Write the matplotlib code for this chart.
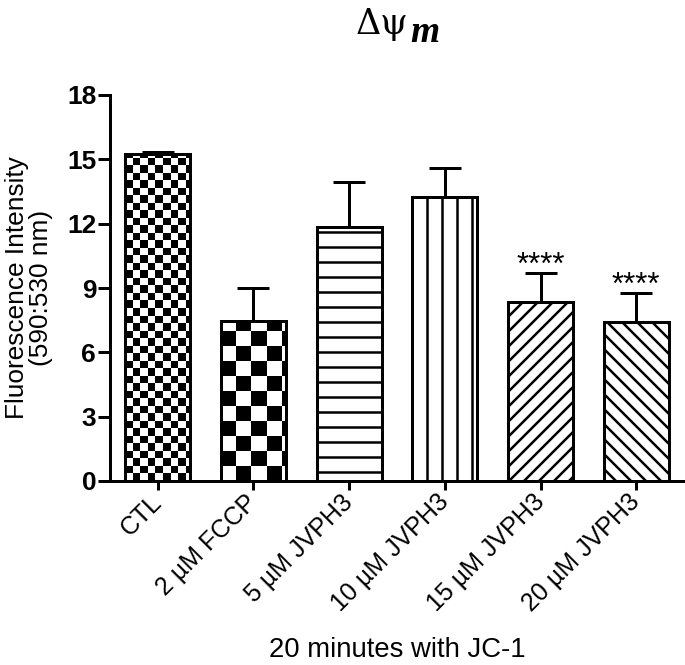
import numpy as np
import matplotlib
matplotlib.use('Agg')
import matplotlib.pyplot as plt

groups = ['CTL', '2 µM FCCP', '5 µM JVPH3', '10 µM JVPH3', '15 µM JVPH3', '20 µM JVPH3']
means = [15.25, 7.45, 11.85, 13.25, 8.35, 7.42]
sems = [0.1, 1.55, 2.1, 1.35, 1.35, 1.35]
stars = ['', '', '', '', '****', '****']
yticks = [0, 3, 6, 9, 12, 15, 18]

# fill style per bar: checker cell size in px, or a hatch
checker_px = [7.5, 15, None, None, None, None]
hatches = [None, None, '-', '|', '//', '\\\\']

plt.rcParams['font.family'] = 'Liberation Sans'
plt.rcParams['hatch.linewidth'] = 2.0

dpi = 90
fig = plt.figure(figsize=(685 / dpi, 665 / dpi), dpi=dpi)
ax = fig.add_axes([110 / 685, 1 - 481 / 665, 574 / 685, 386 / 665])
x = np.arange(len(groups))
ax.set_xlim(-0.5, 5.5)
ax.set_ylim(0, 18)


def checker(ax, bar, cell):
    x0, y0 = bar.get_x(), bar.get_y()
    w, h = bar.get_width(), bar.get_height()
    (px0, py0), (px1, py1) = ax.transData.transform([(x0, y0), (x0 + w, y0 + h)])
    nx = int(np.ceil((px1 - px0) / cell)) + 1
    ny = int(np.ceil((py1 - py0) / cell)) + 1
    img = np.indices((ny, nx)).sum(axis=0) % 2
    ex1, ey1 = ax.transData.inverted().transform((px0 + nx * cell, py0 + ny * cell))
    im = ax.imshow(img, cmap='gray_r', origin='lower', extent=(x0, ex1, y0, ey1),
                   aspect='auto', interpolation='nearest', zorder=2.1)
    im.set_clip_path(bar)


ax.errorbar(x, means, yerr=[np.zeros(len(sems)), sems], fmt='none', ecolor='black',
            elinewidth=2.4, capsize=13, capthick=2.4, zorder=1.5)
bars = ax.bar(x, means, width=0.68, color='white', edgecolor='black', linewidth=2.4, zorder=2)
for b, h, c in zip(bars, hatches, checker_px):
    if h:
        b.set_hatch(h)
    if c:
        checker(ax, b, c)
ax.bar(x, means, width=0.68, fill=False, edgecolor='black', linewidth=2.4, zorder=2.2)
ax.set_xlim(-0.5, 5.5)
ax.set_ylim(0, 18)

for xi, m, s, st in zip(x, means, sems, stars):
    if st:
        ax.text(xi, m + s - 0.05, st, ha='center', va='baseline', fontsize=25)

for side in ['top', 'right']:
    ax.spines[side].set_visible(False)
for side in ['left', 'bottom']:
    ax.spines[side].set_linewidth(2.4)

ax.set_yticks(yticks)
ax.set_yticklabels([str(t) for t in yticks], fontsize=21, fontweight='bold')
ax.tick_params(axis='y', direction='out', length=10, width=2.4, pad=1)
ax.set_xticks(x)
ax.set_xticklabels(groups, fontsize=20, rotation=45, ha='right', va='center',
                   rotation_mode='anchor')
ax.tick_params(axis='x', direction='out', length=7, width=2.4, pad=7)

ax.set_ylabel('Fluorescence Intensity\n(590:530 nm)', fontsize=21, linespacing=1.0)
ax.yaxis.set_label_coords(-0.1, 0.5)
ax.set_xlabel('20 minutes with JC-1', fontsize=22)
ax.xaxis.set_label_coords(0.5, -0.405)

# title: upright delta-psi with bold italic subscript m
fig.text(408 / 685, 1 - 34 / 665, 'Δψ', family='DejaVu Serif', ha='right',
         va='baseline', fontsize=28)
fig.text(410 / 685, 1 - 42 / 665, 'm', family='Liberation Serif', style='italic',
         fontweight='bold', ha='left', va='baseline', fontsize=30)

fig.savefig('out.png', dpi=dpi)
